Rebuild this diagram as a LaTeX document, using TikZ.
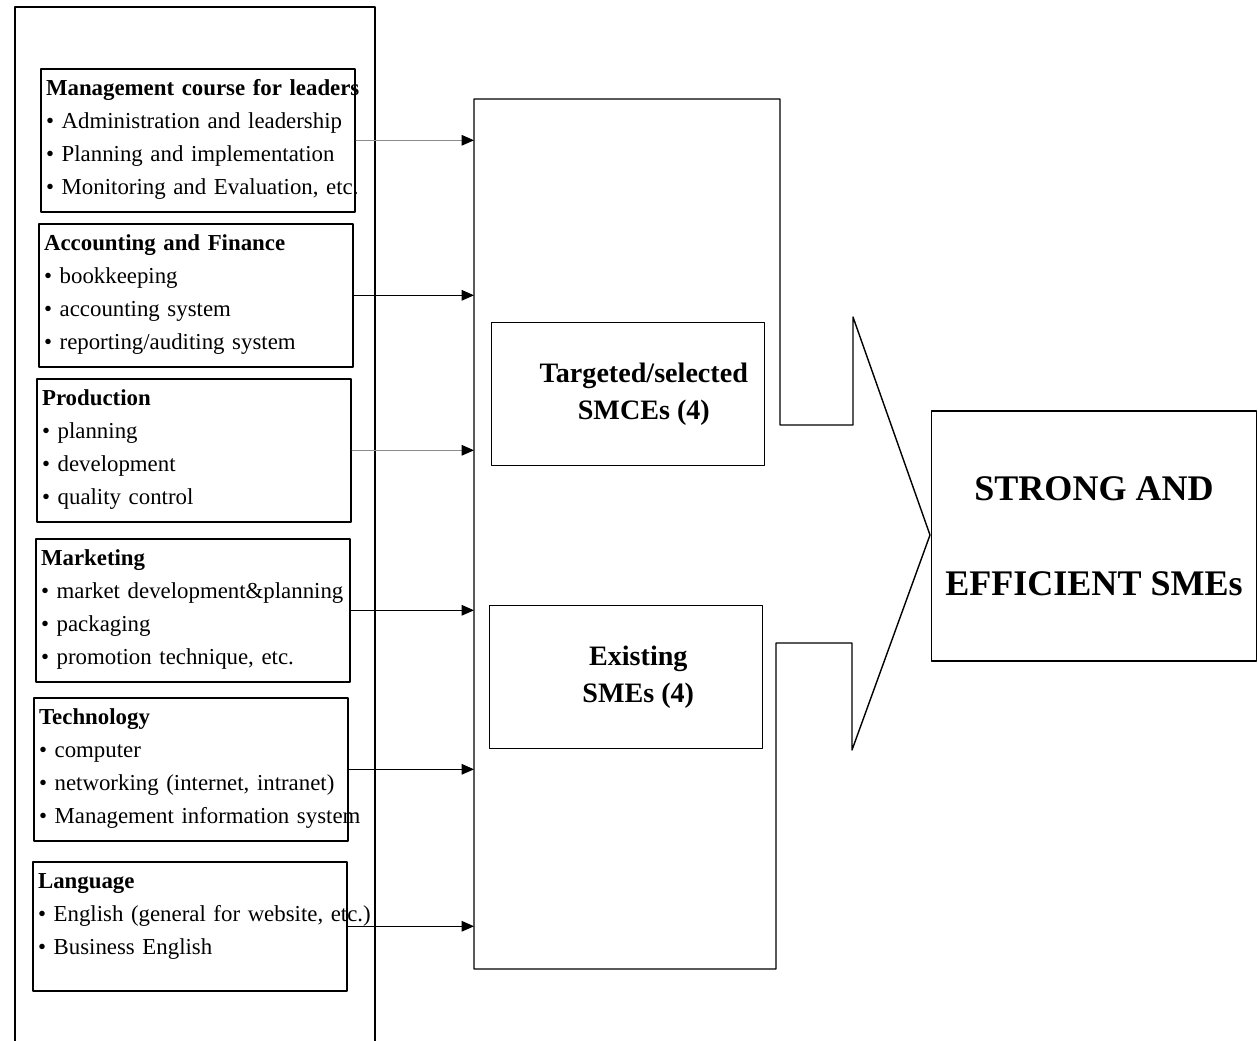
\documentclass[tikz,border=0pt]{standalone}
\usepackage{fontspec}
\setmainfont{Liberation Serif}
\usetikzlibrary{arrows.meta,positioning}
\tikzset{
  TopicBox/.style={
    draw, line width=0.9pt, anchor=north west,
    text width=173pt, inner xsep=3pt, inner ysep=6pt,
    align=left, font=\fontsize{13}{18.8}\selectfont,
    text height=9pt, text depth=60.4pt
  },
  GroupBox/.style={
    draw, line width=0.9pt, minimum width=5.46cm, minimum height=2.86cm,
    font=\fontsize{16}{21}\selectfont\bfseries, align=center
  },
  Feed/.style={-{Triangle[length=7pt,width=6pt,color=black]}, line width=0.6pt},
  FeedLight/.style={Feed, draw=black!45}
}
\newcommand{\TopicHead}[1]{\textbf{\mbox{#1}}}
\newcommand{\TopicItem}[1]{\mbox{\textbullet\ #1}}

\begin{document}
\begin{tikzpicture}[x=0.02cm, y=-0.02cm, line cap=round, line join=round]
  \useasboundingbox (0,0) rectangle (1258,1041);

  % frame round the training topics (open at the bottom)
  \draw[line width=0.9pt] (15,1041) -- (15,7) -- (375,7) -- (375,1041);

  % training topics
  \node[TopicBox] (mgmt) at (40,68) {\TopicHead{Management course for leaders}\\
    \TopicItem{Administration and leadership}\\
    \TopicItem{Planning and implementation}\\
    \TopicItem{Monitoring and Evaluation, etc.}};
  \node[TopicBox] (acct) at (38,223) {\TopicHead{Accounting and Finance}\\
    \TopicItem{bookkeeping}\\
    \TopicItem{accounting system}\\
    \TopicItem{reporting/auditing system}};
  \node[TopicBox] (prod) at (36,378) {\TopicHead{Production}\\
    \TopicItem{planning}\\
    \TopicItem{development}\\
    \TopicItem{quality control}};
  \node[TopicBox] (mkt) at (35,538) {\TopicHead{Marketing}\\
    \TopicItem{market development\&planning}\\
    \TopicItem{packaging}\\
    \TopicItem{promotion technique, etc.}};
  \node[TopicBox] (tech) at (33,697) {\TopicHead{Technology}\\
    \TopicItem{computer}\\
    \TopicItem{networking (internet, intranet)}\\
    \TopicItem{Management information system}};
  \node[TopicBox, text depth=52.4pt] (lang) at (32,861) {\TopicHead{Language}\\
    \TopicItem{English (general for website, etc.)}\\
    \TopicItem{Business English}};

  % big arrow holding the target groups
  \coordinate (HubTL) at (474,99);
  \coordinate (HubTR) at (780,99);
  \coordinate (HubTip) at (930,535);
  \coordinate (HubBR) at (776,969);
  \coordinate (HubBL) at (474,969);
  \draw[line width=0.8pt] (HubTL) -- (HubTR) -- (780,425) -- (853,425) -- (853,317)
    -- (HubTip) -- (852,750) -- (852,643) -- (776,643) -- (HubBR) -- (HubBL) -- cycle;

  \node[GroupBox] (target) at (628,394) {\hspace*{18pt}Targeted/selected\\\hspace*{18pt}SMCEs (4)};
  \node[GroupBox] (exist) at (626,677) {\hspace*{14pt}Existing\\\hspace*{14pt}SMEs (4)};

  % result
  \node[draw, line width=0.9pt, minimum width=6.5cm, minimum height=5cm,
    font=\fontsize{20.5}{54}\selectfont\bfseries, align=center] (result) at (1094,536)
    {STRONG AND\\EFFICIENT SMEs};

  % topics feed the target groups
  \draw[FeedLight] (mgmt.east) -- (mgmt.east -| HubTL);
  \draw[Feed] (acct.east) -- (acct.east -| HubTL);
  \draw[FeedLight] (prod.east) -- (prod.east -| HubTL);
  \draw[Feed] (mkt.east) -- (mkt.east -| HubTL);
  \draw[Feed] (tech.east) -- (tech.east -| HubTL);
  \draw[Feed] (lang.east) -- (lang.east -| HubTL);
\end{tikzpicture}
\end{document}
